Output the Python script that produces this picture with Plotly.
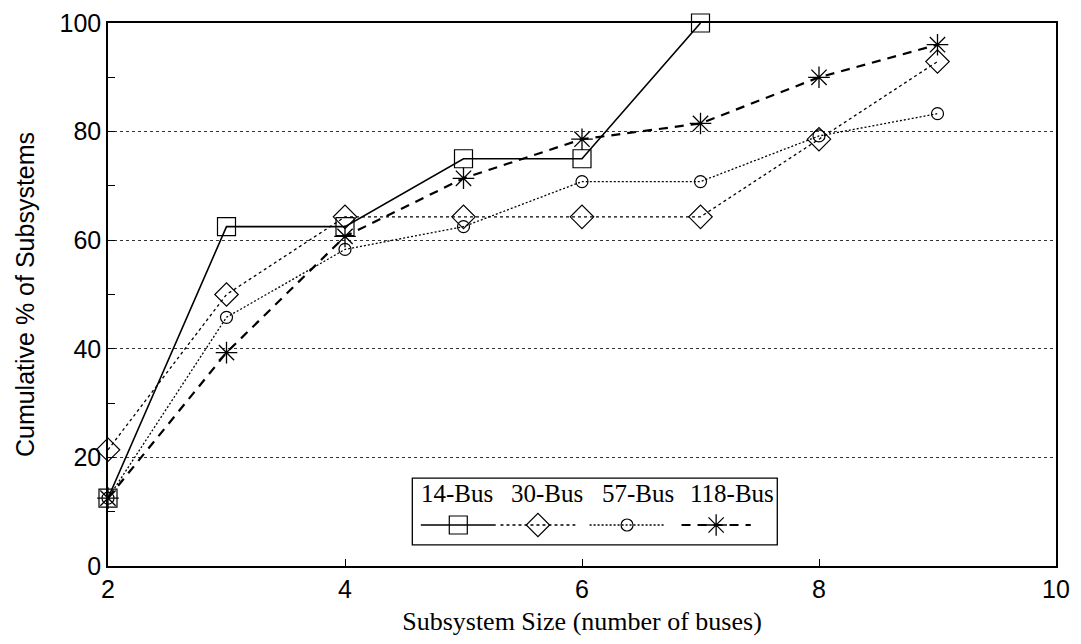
import plotly.graph_objects as go

sizes = [2, 3, 4, 5, 6, 7, 8, 9]
bus14 = [12.5, 62.5, 62.5, 75.0, 75.0, 100.0]
bus30 = [21.4, 50.0, 64.3, 64.3, 64.3, 64.3, 78.6, 92.9]
bus57 = [12.5, 45.8, 58.3, 62.5, 70.8, 70.8, 79.2, 83.3]
bus118 = [12.5, 39.3, 60.7, 71.4, 78.6, 81.5, 90.0, 96.0]
names = ["14-Bus", "30-Bus", "57-Bus", "118-Bus"]

SERIF = "Liberation Serif, Times New Roman, serif"
SANS = "Liberation Sans, Arial, sans-serif"

styles = [
    dict(line=dict(color="black", width=1.6, dash="solid"),
         marker=dict(symbol="square-open", size=18, color="black", line=dict(width=1.2))),
    dict(line=dict(color="black", width=1.3, dash="dot"),
         marker=dict(symbol="diamond-open", size=18, color="black", line=dict(width=1.2))),
    dict(line=dict(color="black", width=1.3, dash="2px,2px"),
         marker=dict(symbol="circle-open", size=12, color="black", line=dict(width=1.2))),
    dict(line=dict(color="black", width=2.2, dash="9px,7px"),
         marker=dict(symbol="asterisk-open", size=18, color="black", line=dict(width=1.3))),
]
series = [bus14, bus30, bus57, bus118]

fig = go.Figure()
for name, vals, st in zip(names, series, styles):
    fig.add_trace(go.Scatter(x=sizes[:len(vals)], y=vals, mode="lines+markers", name=name,
                             line=st["line"], marker=st["marker"], showlegend=False,
                             cliponaxis=False))

# custom legend box (paper-referenced overlay axis)
lx0, lx1, ly0, ly1 = 0.321, 0.706, 0.039, 0.162
fig.add_shape(type="rect", xref="paper", yref="paper", x0=lx0, x1=lx1, y0=ly0, y1=ly1,
              line=dict(color="black", width=1.3), fillcolor="white", layer="below")
text_x = [0.368, 0.463, 0.559, 0.658]
sample_ranges = [(0.330, 0.409), (0.414, 0.493), (0.508, 0.587), (0.605, 0.678)]
sample_y = 0.0755
for name, tx, (sx0, sx1), st in zip(names, text_x, sample_ranges, styles):
    fig.add_annotation(xref="paper", yref="paper", x=tx, y=0.134, text=name, showarrow=False,
                       xanchor="center", yanchor="middle",
                       font=dict(family=SERIF, size=25, color="black"))
    fig.add_trace(go.Scatter(x=[sx0, sx1], y=[sample_y, sample_y], mode="lines",
                             line=st["line"], xaxis="x2", yaxis="y2", showlegend=False,
                             hoverinfo="skip"))
    fig.add_trace(go.Scatter(x=[(sx0 + sx1) / 2], y=[sample_y], mode="markers",
                             marker=st["marker"], xaxis="x2", yaxis="y2", showlegend=False,
                             hoverinfo="skip"))

fig.update_layout(
    width=1065, height=628,
    margin=dict(l=100, r=17, t=15, b=70, autoexpand=False),
    paper_bgcolor="white", plot_bgcolor="white",
    xaxis=dict(range=[2, 10], tickvals=[2, 4, 6, 8, 10], ticks="inside", ticklen=7,
               tickcolor="black", showgrid=False, zeroline=False, showline=True,
               linecolor="black", linewidth=1.5, mirror=True, automargin=False,
               tickfont=dict(family=SANS, size=25, color="black"),
               title=dict(text="Subsystem Size (number of buses)",
                          font=dict(family=SERIF, size=26, color="black"), standoff=12)),
    yaxis=dict(range=[0, 100], tickvals=[0, 20, 40, 60, 80, 100], ticks="inside", ticklen=7,
               tickcolor="black", showgrid=True, gridcolor="#333", griddash="dot", gridwidth=1,
               minor=dict(dtick=10, ticks="inside", ticklen=7, tickcolor="black", showgrid=False),
               zeroline=False, showline=True, linecolor="black", linewidth=1.5, mirror=True,
               automargin=False,
               tickfont=dict(family=SANS, size=25, color="black"),
               title=dict(text="Cumulative % of Subsystems",
                          font=dict(family=SANS, size=25, color="black"), standoff=18)),
    xaxis2=dict(domain=[0, 1], range=[0, 1], overlaying="x", visible=False, fixedrange=True),
    yaxis2=dict(domain=[0, 1], range=[0, 1], overlaying="y", visible=False, fixedrange=True),
)

fig.write_html("out.html")
